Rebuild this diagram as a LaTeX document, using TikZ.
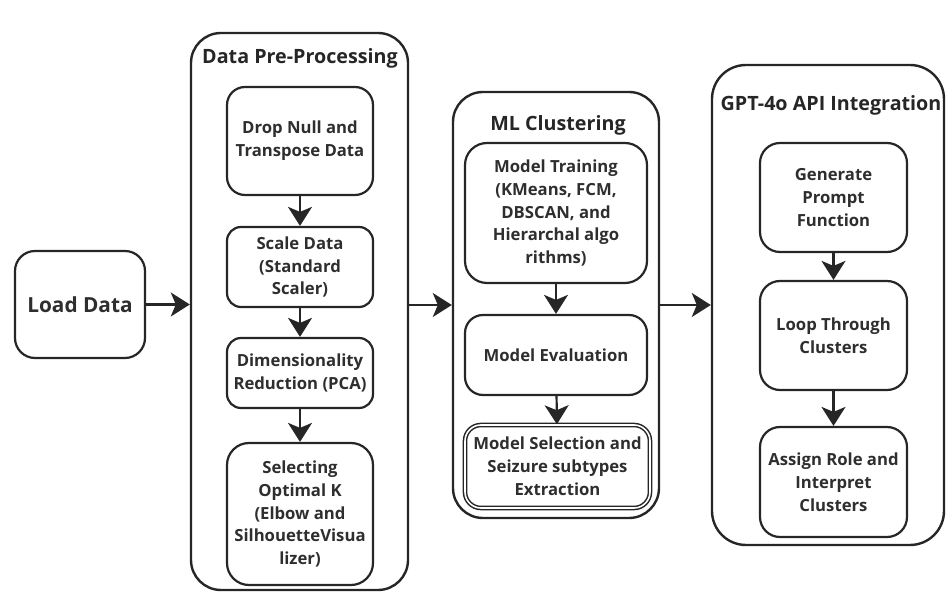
\documentclass[tikz,border=0pt]{standalone}
\usepackage{fontspec}
\setmainfont{Open Sans}
\usetikzlibrary{arrows.meta}
\tikzset{
  stagebox/.style={draw=black!85, line width=2.4pt, rounded corners=30pt, minimum width=#1, inner sep=0pt},
  stepbox/.style={draw=black!85, line width=2.2pt, rounded corners=18pt, align=center, inner sep=0pt,
    font=\fontsize{16.7}{22.8}\selectfont\bfseries, text=black!82},
  stagetitle/.style={font=\fontsize{19.7}{23}\selectfont\bfseries, text=black!85, inner sep=0pt},
  flow/.style={draw=black!85, line width=2.2pt, -{Stealth[length=19pt, width=24pt, inset=5pt]}},
}
\begin{document}
\begin{tikzpicture}[x=1pt, y=-1pt]
\useasboundingbox (0,0) rectangle (946,593);

% load step
\node[stepbox, minimum width=130pt, minimum height=107pt, rounded corners=20pt,
      font=\fontsize{20.8}{24}\selectfont\bfseries] (load) at (80,304.5) {Load Data};

% pre-processing stage
\node[stagebox=217pt, minimum height=557pt] (pre) at (299.5,311.5) {};
\node[stagetitle] (pretitle) at (300,58) {Data Pre-Processing};
\node[stepbox, minimum width=146pt, minimum height=108pt] (drop) at (300,141) {Drop Null and\\Transpose Data};
\node[stepbox, minimum width=146pt, minimum height=80pt, rounded corners=14pt] (scale) at (300,267) {Scale Data\\(Standard\\Scaler)};
\node[stepbox, minimum width=146pt, minimum height=70pt, rounded corners=14pt] (dim) at (300,373) {Dimensionality\\Reduction (PCA)};
\node[stepbox, minimum width=146pt, minimum height=142pt, rounded corners=22pt] (sel) at (300,514) {Selecting\\Optimal K\\(Elbow and\\SilhouetteVisua\\lizer)};

% clustering stage
\node[stagebox=206pt, minimum height=426pt] (ml) at (556,305) {};
\node[stagetitle] (mltitle) at (558,125) {ML Clustering};
\node[stepbox, minimum width=182pt, minimum height=140pt, rounded corners=22pt] (train) at (556,213) {Model Training\\(KMeans, FCM,\\DBSCAN, and\\Hierarchal algo\\rithms)};
\node[stepbox, minimum width=182pt, minimum height=80pt] (eval) at (556,355) {Model Evaluation};
\node[stepbox, minimum width=185pt, minimum height=83pt, double=white, double distance=1.6pt, line width=1.5pt, rounded corners=16pt] (pick) at (557.5,466.5) {Model Selection and\\Seizure subtypes\\Extraction};

% GPT stage
\node[stagebox=232pt, minimum height=480pt, rounded corners=34pt] (gpt) at (828,305) {};
\node[stagetitle] (gpttitle) at (831,105) {GPT-4o API Integration};
\node[stepbox, minimum width=147pt, minimum height=109pt, rounded corners=20pt] (gen) at (833.5,197.5) {Generate\\Prompt\\Function};
\node[stepbox, minimum width=147pt, minimum height=109pt, rounded corners=20pt] (loop) at (833.5,335.5) {Loop Through\\Clusters};
\node[stepbox, minimum width=147pt, minimum height=110pt, rounded corners=20pt] (assign) at (833.5,482) {Assign Role and\\Interpret\\Clusters};

% connectors between stages
\draw[flow] (load.east) -- (pre.west |- load.east);
\draw[flow] (pre.east |- ml.west) -- (ml.west);
\draw[flow] (ml.east) -- (gpt.west |- ml.east);

% connectors inside stages
\draw[flow] (drop) -- (scale);
\draw[flow] (scale) -- (dim);
\draw[flow] (dim) -- (sel);
\draw[flow] (train) -- (eval);
\draw[flow] (eval) -- (pick);
\draw[flow] (gen) -- (loop);
\draw[flow] (loop) -- (assign);
\end{tikzpicture}
\end{document}
